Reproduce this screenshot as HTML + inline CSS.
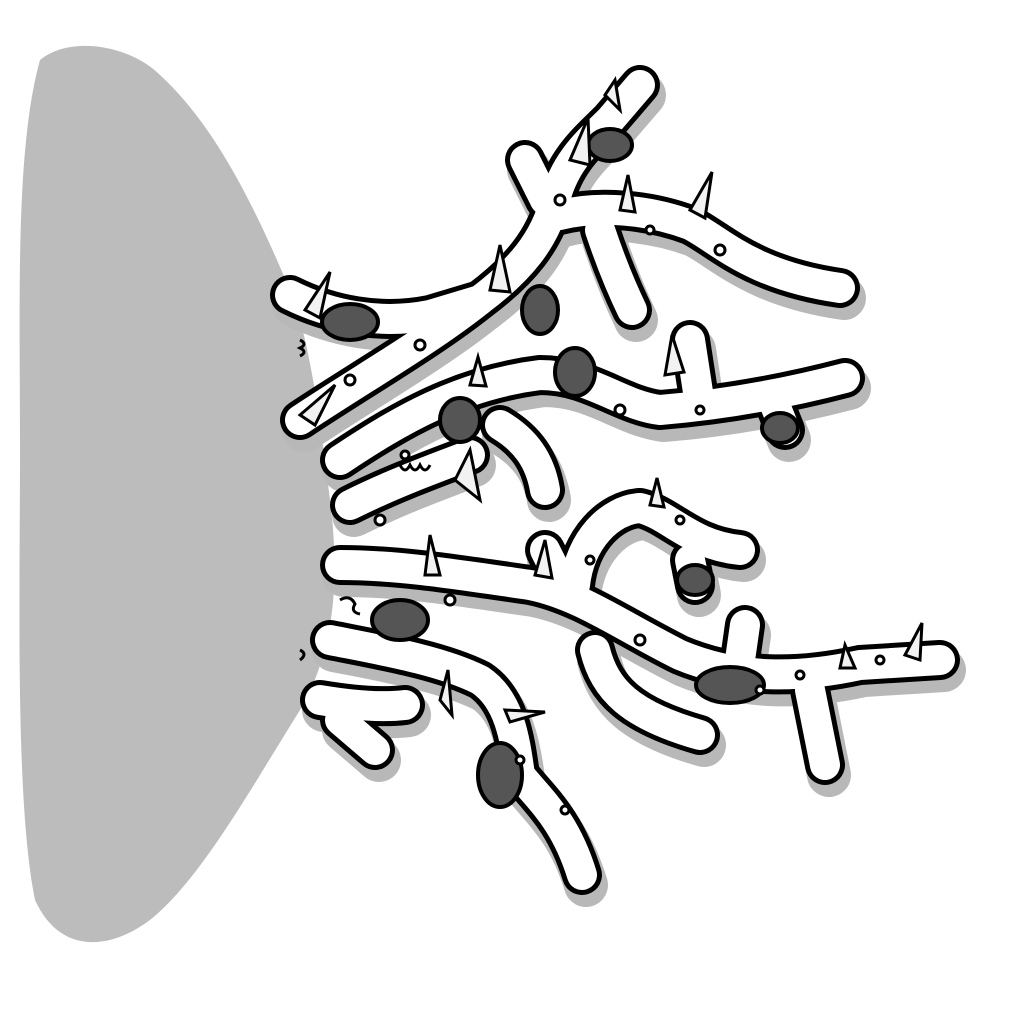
<!DOCTYPE html>
<html><head><meta charset="utf-8"><title>Branches</title>
<style>html,body{margin:0;padding:0;background:#fff;width:1024px;height:1024px;overflow:hidden}</style>
</head><body>
<svg width="1024" height="1024" viewBox="0 0 1024 1024" xmlns="http://www.w3.org/2000/svg">
<rect width="1024" height="1024" fill="#fff"/>
<path fill="#bcbcbc" d="M40,60 C70,35 130,45 160,75 C220,130 260,220 290,290 C310,340 320,420 330,500 C340,580 335,650 300,710 C250,790 200,880 150,920 C110,950 60,955 35,900 C15,800 20,600 20,450 C20,300 15,150 40,60 Z"/>
<defs>
<g id="paths">
<path d="M300,420 C360,380 430,340 480,300 C520,270 545,240 555,200 C565,160 590,140 610,120 L640,85"/>
<path d="M290,295 C330,315 380,325 430,315 L480,300"/>
<path d="M560,215 C600,205 650,210 690,225 C720,240 750,275 840,288"/>
<path d="M600,230 C610,260 620,285 632,310"/>
<path d="M525,160 L545,200"/>
<path d="M340,460 C400,420 460,385 540,375 C590,375 620,405 660,410 C720,405 780,395 845,378"/>
<path d="M500,425 C525,440 540,460 545,490"/>
<path d="M690,340 L700,405"/>
<path d="M775,405 L785,430"/>
<path d="M340,565 C400,565 460,575 530,585 C580,595 620,625 680,655 C740,680 800,678 860,665 L940,660"/>
<path d="M575,585 C580,540 610,510 640,508 C670,515 690,545 740,550"/>
<path d="M690,560 L695,585"/>
<path d="M810,690 L825,765"/>
<path d="M595,650 C605,690 630,715 700,735"/>
<path d="M330,640 C380,650 440,660 480,680 C510,700 515,740 520,775 C540,800 565,820 582,875"/>
<path d="M320,700 C350,705 380,708 405,705"/>
<path d="M340,720 L375,750"/>
<path d="M350,505 C390,485 430,470 470,455"/>
<path d="M560,580 L545,550"/>
<path d="M740,660 L745,625"/>
</g>
</defs>
<use href="#paths" fill="none" stroke-linecap="round" stroke-linejoin="round" stroke="#b8b8b8" stroke-width="44" transform="translate(4,10)"/>
<use href="#paths" fill="none" stroke-linecap="round" stroke-linejoin="round" stroke="#000" stroke-width="40"/>
<use href="#paths" fill="none" stroke-linecap="round" stroke-linejoin="round" stroke="#fff" stroke-width="30"/>
<g fill="#555" stroke="#000" stroke-width="4">
<ellipse cx="350" cy="322" rx="28" ry="18"/>
<ellipse cx="540" cy="310" rx="18" ry="24"/>
<ellipse cx="610" cy="145" rx="22" ry="16"/>
<ellipse cx="575" cy="372" rx="20" ry="24"/>
<ellipse cx="460" cy="420" rx="20" ry="22"/>
<ellipse cx="400" cy="620" rx="28" ry="20"/>
<ellipse cx="730" cy="685" rx="34" ry="18"/>
<ellipse cx="500" cy="775" rx="22" ry="32"/>
<ellipse cx="695" cy="580" rx="18" ry="15"/>
<ellipse cx="780" cy="428" rx="18" ry="15"/>
</g>
<g fill="#f2f2f2" stroke="#000" stroke-width="3">
<path d="M305,310 L330,272 L320,318Z"/>
<path d="M490,290 L500,245 L510,292Z"/>
<path d="M570,160 L588,118 L590,165Z"/>
<path d="M620,210 L628,175 L635,212Z"/>
<path d="M690,210 L712,172 L705,218Z"/>
<path d="M470,385 L478,357 L486,386Z"/>
<path d="M665,375 L672,335 L684,372Z"/>
<path d="M425,575 L430,535 L440,575Z"/>
<path d="M535,575 L545,540 L552,578Z"/>
<path d="M650,505 L657,478 L664,507Z"/>
<path d="M440,700 L448,670 L452,715Z"/>
<path d="M505,710 L545,712 L510,722Z"/>
<path d="M905,655 L922,623 L920,660Z"/>
<path d="M840,668 L845,645 L855,668Z"/>
<path d="M455,480 L470,450 L480,500Z"/>
<path d="M300,415 L335,385 L315,425Z"/>
<path d="M605,95 L615,80 L620,110Z"/>
</g>
<g fill="#fff" stroke="#000" stroke-width="3">
<circle cx="420" cy="345" r="5"/><circle cx="560" cy="200" r="5"/><circle cx="650" cy="230" r="4"/>
<circle cx="720" cy="250" r="5"/><circle cx="620" cy="410" r="5"/><circle cx="700" cy="410" r="4"/>
<circle cx="640" cy="640" r="5"/><circle cx="800" cy="675" r="4"/><circle cx="880" cy="660" r="4"/>
<circle cx="450" cy="600" r="5"/><circle cx="590" cy="560" r="4"/><circle cx="520" cy="760" r="4"/>
<circle cx="380" cy="520" r="5"/><circle cx="350" cy="380" r="5"/><circle cx="680" cy="520" r="4"/>
<circle cx="760" cy="690" r="4"/><circle cx="565" cy="810" r="4"/><circle cx="405" cy="455" r="4"/>
</g>
<g fill="none" stroke="#000" stroke-width="3">
<path d="M300,340 q8,4 0,8 q8,4 0,8"/>
<path d="M400,465 q5,10 10,0 q5,10 10,0 q5,10 10,0"/>
<path d="M300,650 q8,4 0,10"/>
<path d="M340,600 q10,-6 15,4 q-5,8 5,10"/>
</g>
</svg>
</body></html>
